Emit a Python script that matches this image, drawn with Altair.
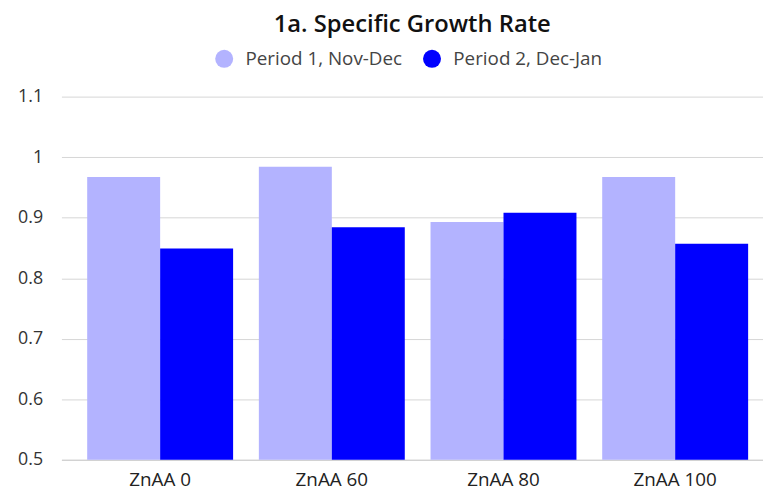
import altair as alt
import pandas as pd

categories = ["ZnAA 0", "ZnAA 60", "ZnAA 80", "ZnAA 100"]
series = ["Period 1, Nov-Dec", "Period 2, Dec-Jan"]
period1 = [0.967, 0.984, 0.893, 0.967]
period2 = [0.849, 0.884, 0.908, 0.857]
colors = ["#b3b3ff", "#0000ff"]

rows = []
for c, a, b in zip(categories, period1, period2):
    rows.append({"cat": c, "series": series[0], "value": a})
    rows.append({"cat": c, "series": series[1], "value": b})
df = pd.DataFrame(rows)

FONT = "Open Sans"

chart = alt.Chart(df).mark_bar(clip=True).encode(
    x=alt.X("cat:N", sort=categories, title=None,
            scale=alt.Scale(paddingInner=0.15, paddingOuter=0.15, range=[0, 720]),
            axis=alt.Axis(labelAngle=0, labelFontSize=19, labelColor="#222",
                          labelPadding=11, ticks=False, domainColor="#cccccc",
                          labelFont=FONT)),
    xOffset=alt.XOffset("series:N", sort=series, scale=alt.Scale(paddingInner=0, paddingOuter=0)),
    y=alt.Y("value:Q", title=None,
            scale=alt.Scale(domain=[0.5, 1.1], nice=False, zero=False),
            axis=alt.Axis(values=[0.5, 0.6, 0.7, 0.8, 0.9, 1.0, 1.1], format=".2~f",
                          labelFontSize=18, labelColor="#333", labelPadding=19,
                          ticks=False, domain=False, gridColor="#d6d6d6",
                          labelFont=FONT)),
    color=alt.Color("series:N", sort=series, title=None,
                    scale=alt.Scale(domain=series, range=colors),
                    legend=alt.Legend(orient="none", direction="horizontal",
                                      legendX=155, legendY=-48,
                                      symbolType="circle", symbolSize=330,
                                      labelFontSize=19, labelColor="#444",
                                      labelFont=FONT, columnPadding=20,
                                      labelOffset=12, symbolStrokeWidth=0)),
).properties(
    width=709,
    height=367,
    title=alt.TitleParams("1a. Specific Growth Rate", fontSize=24, font=FONT,
                          fontWeight=600, color="#111", anchor="middle",
                          offset=12),
    autosize=alt.AutoSizeParams(type="none"),
    padding={"left": 54, "top": 87, "right": 0, "bottom": 30},
).configure_view(stroke=None)

chart.save("out.html", embed_options={"renderer": "svg", "actions": False})
